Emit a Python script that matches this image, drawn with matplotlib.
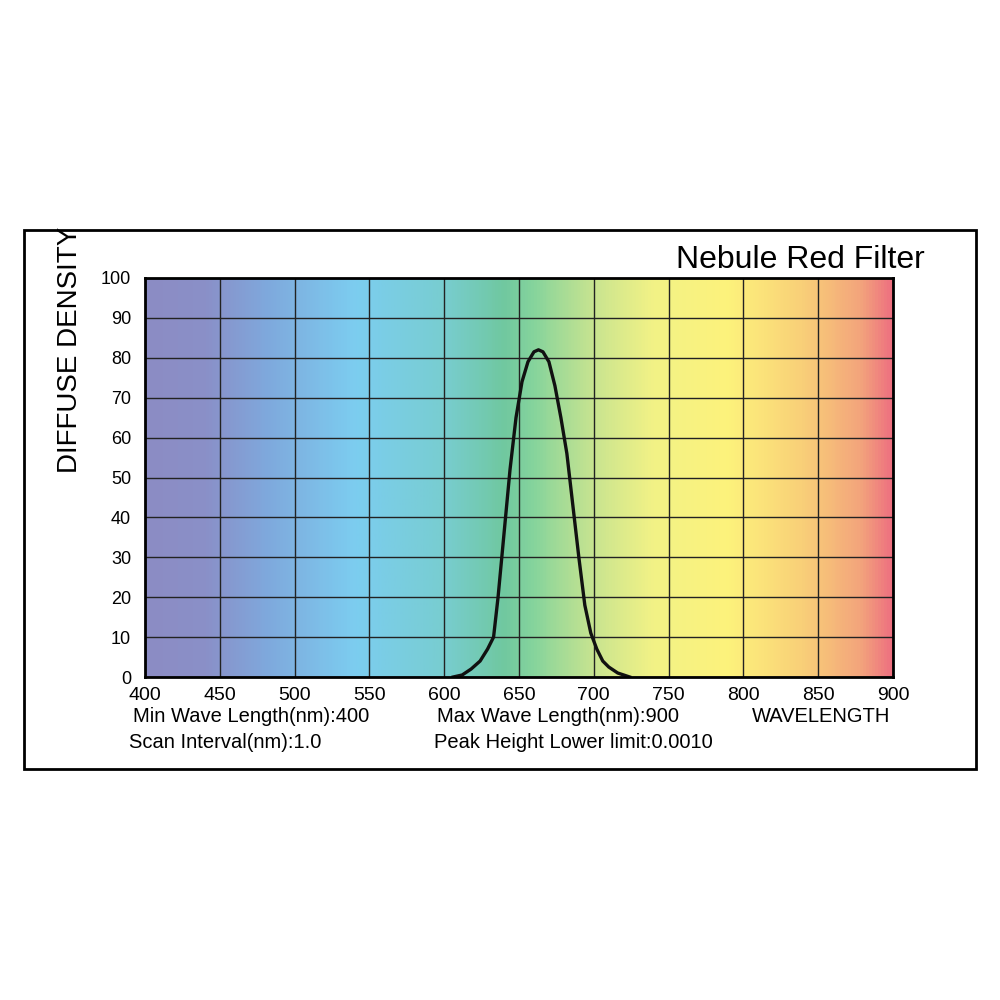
import numpy as np
import matplotlib
matplotlib.use("Agg")
import matplotlib.pyplot as plt
from matplotlib.colors import LinearSegmentedColormap
from matplotlib.patches import Rectangle

plt.rcParams['font.family'] = ['Liberation Sans', 'DejaVu Sans']

wl = [606, 612, 618, 624, 629, 633, 636, 640, 644, 648, 652, 656, 660, 663, 666, 670, 674, 678, 682, 686, 690, 694, 698, 702, 706, 710, 716, 724]
density = [0, 0.5, 2, 4, 7, 10, 20, 36, 52, 65, 74, 79, 81.5, 82, 81.5, 79, 73, 65, 56, 43, 30, 18, 11, 7, 4, 2.5, 1, 0]
xticks = [400, 450, 500, 550, 600, 650, 700, 750, 800, 850, 900]
yticks = [0, 10, 20, 30, 40, 50, 60, 70, 80, 90, 100]
grad_pos = [400, 440, 480, 540, 600, 640, 660, 700, 740, 790, 840, 880, 900]
grad_col = ["#8c8cc4", "#8a90c8", "#7fa8dc", "#7ccdf0", "#78cdd0", "#70c8a0", "#86d49c", "#c8e490",
            "#f2f286", "#fdf37c", "#f9d078", "#f3a47c", "#ee7080"]

fig = plt.figure(figsize=(10, 10), dpi=100)
fig.patches.append(Rectangle((0.024, 0.231), 0.952, 0.539, transform=fig.transFigure,
                             fill=False, lw=2, ec="black"))
ax = fig.add_axes([0.145, 0.323, 0.748, 0.399])
cmap = LinearSegmentedColormap.from_list("s", [((p - 400) / 500, c) for p, c in zip(grad_pos, grad_col)])
ax.imshow(np.linspace(0, 1, 500)[None, :], cmap=cmap, aspect="auto", extent=[400, 900, 0, 100])
ax.set_xlim(400, 900); ax.set_ylim(0, 100)
ax.set_xticks(xticks); ax.set_yticks(yticks)
ax.grid(True, color="#222222", lw=1)
ax.tick_params(axis='y', length=0, labelsize=13, pad=10)
ax.tick_params(axis='x', length=0, labelsize=14, pad=7)
ax.plot(wl, density, color="#111111", lw=2.4)
for s in ax.spines.values():
    s.set_linewidth(2)
fig.text(0.07, 0.65, "DIFFUSE DENSITY", fontsize=20, rotation=90, ha="center", va="center")
fig.text(0.925, 0.732, "Nebule Red Filter", fontsize=23, ha="right", va="baseline")
fig.text(0.133, 0.284, "Min Wave Length(nm):400", fontsize=14.5, va="center")
fig.text(0.437, 0.284, "Max Wave Length(nm):900", fontsize=14.5, va="center")
fig.text(0.752, 0.283, "WAVELENGTH", fontsize=14.5, va="center")
fig.text(0.129, 0.257, "Scan Interval(nm):1.0", fontsize=14.5, va="center")
fig.text(0.434, 0.257, "Peak Height Lower limit:0.0010", fontsize=14.5, va="center")
fig.savefig("out.png")
